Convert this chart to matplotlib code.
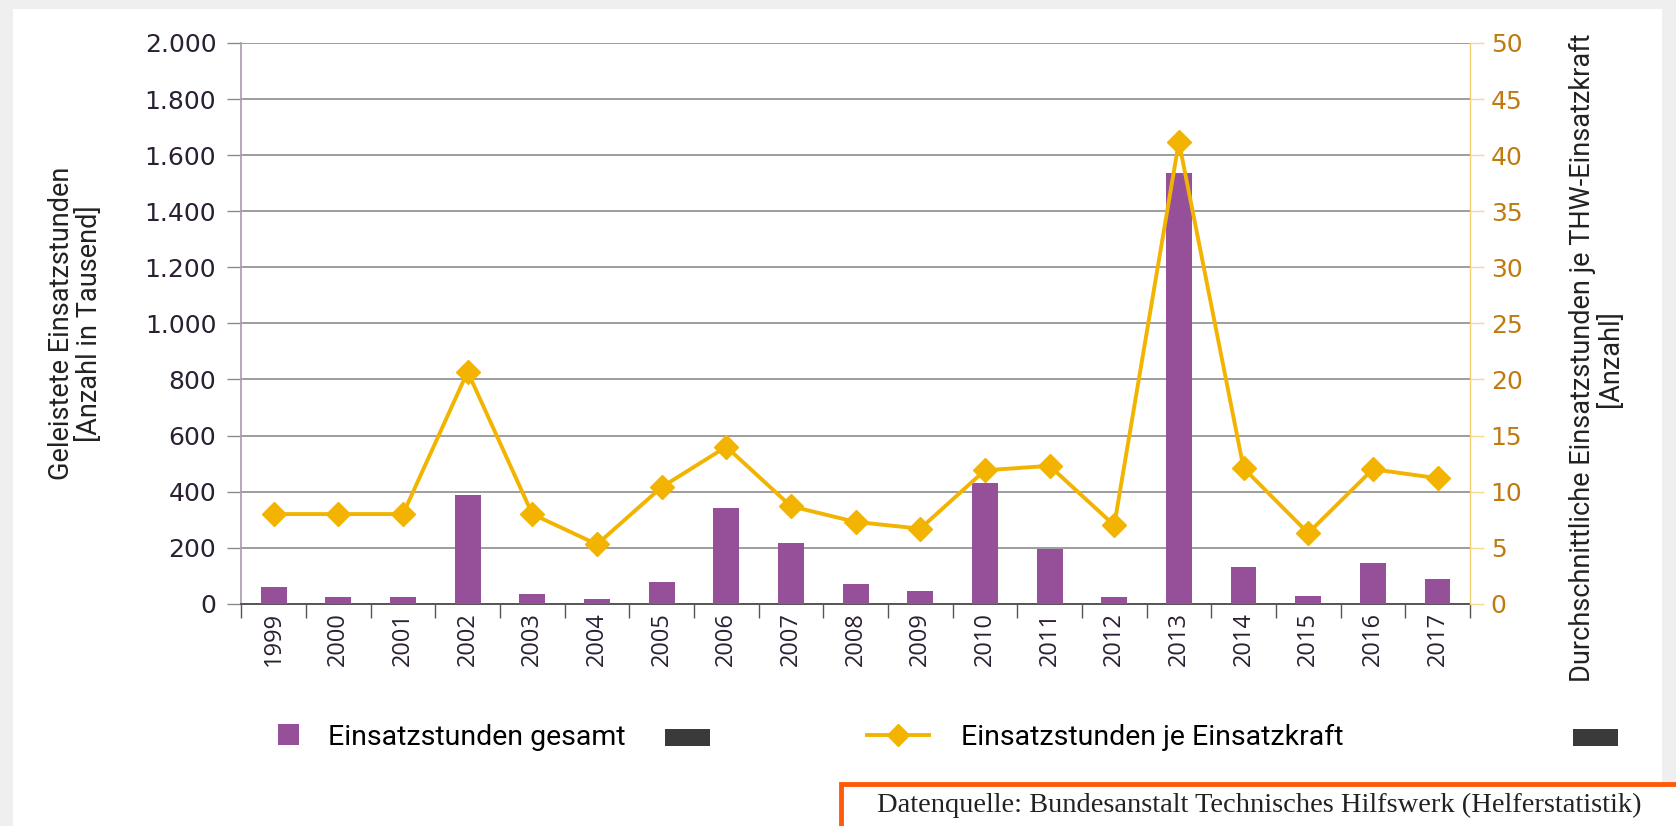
import numpy as np
import matplotlib
matplotlib.use("Agg")
import matplotlib.pyplot as plt
from matplotlib.patches import Rectangle
from matplotlib.lines import Line2D

# Daten
jahre = ["1999", "2000", "2001", "2002", "2003", "2004", "2005", "2006", "2007", "2008",
         "2009", "2010", "2011", "2012", "2013", "2014", "2015", "2016", "2017"]
stunden_gesamt = [61, 24, 24, 387, 34, 17, 77, 341, 217, 72,
                  45, 431, 195, 24, 1535, 132, 29, 144, 90]
stunden_je_kraft = [8.0, 8.0, 8.0, 20.7, 8.0, 5.3, 10.4, 14.0, 8.7, 7.3,
                    6.7, 11.9, 12.3, 7.0, 41.2, 12.1, 6.3, 12.0, 11.2]
links_ticks = [0, 200, 400, 600, 800, 1000, 1200, 1400, 1600, 1800, 2000]
links_labels = ["0", "200", "400", "600", "800", "1.000", "1.200", "1.400", "1.600", "1.800", "2.000"]
rechts_ticks = [0, 5, 10, 15, 20, 25, 30, 35, 40, 45, 50]

lila = "#96509a"
gold = "#f2b400"
braun = "#c07a10"
text_dunkel = "#2a1f33"

plt.rcParams['font.family'] = ['Open Sans', 'DejaVu Sans']
tick_font = ['DejaVu Sans']
label_font = ['Roboto', 'DejaVu Sans']

W, H = 1676, 826
fig = plt.figure(figsize=(W / 100, H / 100), dpi=100)
fig.patch.set_facecolor("#efefef")
# weisses Panel (hinter allem)
fig.patches.append(Rectangle((13 / W, 0), (1662 - 13) / W, 1 - 9 / H, transform=fig.transFigure,
                             facecolor="white", edgecolor="none", zorder=-10))

ax = fig.add_axes([0.144, 0.269, 0.733, 0.679])
ax.set_facecolor("none")
x = np.arange(len(jahre))
ax.bar(x, stunden_gesamt, width=0.4, color=lila, zorder=3)
ax.set_xlim(-0.5, len(jahre) - 0.5)
ax.set_ylim(0, 2000)
ax.set_yticks(links_ticks)
ax.set_yticklabels(links_labels, fontsize=18, color=text_dunkel, family=tick_font)
ax.yaxis.grid(True, color="#8c8c8c", linewidth=1.2, zorder=0)
ax.set_axisbelow(True)
ax.set_xticks(x)
ax.set_xticklabels(jahre, rotation=90, fontsize=17, color=text_dunkel)
ax.tick_params(axis="x", length=0, pad=6)
ax.set_xticks(np.arange(len(jahre) + 1) - 0.5, minor=True)
ax.tick_params(axis="x", which="minor", length=10, color="#555555", width=1)
ax.tick_params(axis="y", length=10, color="#8c8c8c", width=1, pad=8)
for s in ["top", "right"]:
    ax.spines[s].set_visible(False)
ax.spines["left"].set_color("#a89aae")
ax.spines["left"].set_linewidth(1.2)
ax.spines["bottom"].set_color("#555555")
ax.spines["bottom"].set_linewidth(1.4)
ax.set_ylabel("Geleistete Einsatzstunden\n[Anzahl in Tausend]", fontsize=19.5,
              family=label_font, color="#222222", labelpad=30, linespacing=1.05)

ax2 = ax.twinx()
ax2.plot(x, stunden_je_kraft, color=gold, linewidth=2.8, marker="D", markersize=12,
         markerfacecolor=gold, markeredgecolor=gold, zorder=5)
ax2.set_ylim(0, 50)
ax2.set_yticks(rechts_ticks)
ax2.set_yticklabels([str(t) for t in rechts_ticks], fontsize=18, color=braun, family=tick_font)
ax2.tick_params(axis="y", length=10, color="#f3dc90", width=1, pad=5)
for s in ["top", "left", "bottom"]:
    ax2.spines[s].set_visible(False)
ax2.spines["right"].set_color("#f0d070")
ax2.spines["right"].set_linewidth(1)
ax2.set_ylabel("Durchschnittliche Einsatzstunden je THW-Einsatzkraft\n[Anzahl]", fontsize=19.5,
               family=label_font, color="#222222", rotation=90, linespacing=1.05)
ax2.yaxis.set_label_coords(1.081, 0.438)

# Legende
h1 = Rectangle((0, 0), 1, 1, facecolor=lila, edgecolor="none")
h2 = Line2D([0], [0], color=gold, linewidth=2.8, marker="D", markersize=11)
leg_font = {"family": label_font, "size": 20.5}
fig.legend([h1], ["Einsatzstunden gesamt"], loc="center left",
           bbox_to_anchor=(236 / 1568, 1 - 690 / 773), frameon=False, prop=leg_font,
           handlelength=0.75, handleheight=0.75, handletextpad=1.0)
fig.legend([h2], ["Einsatzstunden je Einsatzkraft"], loc="center left",
           bbox_to_anchor=(787 / 1568, 1 - 690 / 773), frameon=False, prop=leg_font,
           handlelength=2.2, handletextpad=1.1)
# kleine dunkle Flaggen-Symbole
for fx in [622, 1472]:
    fig.patches.append(Rectangle((fx / 1568, 1 - 698 / 773), 42 / 1568, 16 / 773,
                                 transform=fig.transFigure, facecolor="#3a3a3a", edgecolor="none"))

# Datenquelle-Box
fig.patches.append(Rectangle((841 / W, -0.02), 0.6, (826 - 784) / H + 0.02, transform=fig.transFigure,
                             facecolor="white", edgecolor="#ff5a0a", linewidth=3.5, zorder=5))
fig.text(877 / W, 1 - 805 / H, "Datenquelle: Bundesanstalt Technisches Hilfswerk (Helferstatistik)",
         ha="left", va="center", fontsize=20.5, family=['Liberation Serif', 'DejaVu Serif'],
         color="#222222", zorder=6)

fig.savefig("out.png", dpi=100)
